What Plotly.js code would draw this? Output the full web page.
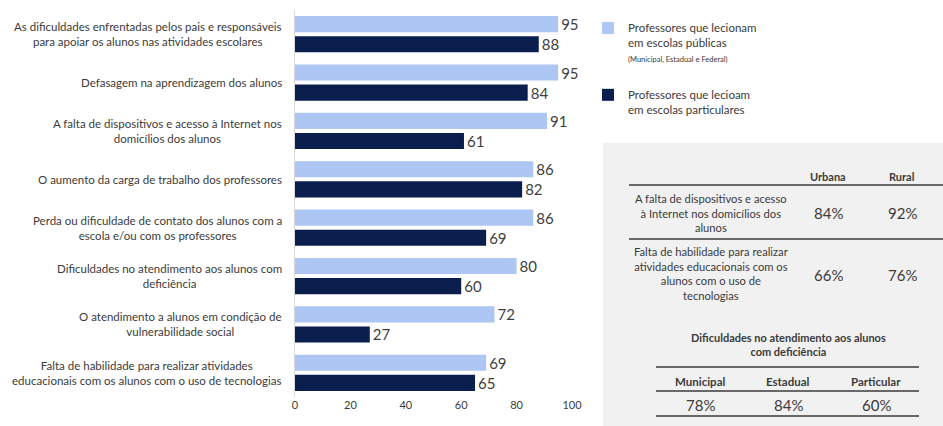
<!DOCTYPE html>
<html>
<head>
<meta charset="utf-8">
<script src="https://cdn.plot.ly/plotly-3.0.1.min.js"></script>
<style>
  html, body { margin: 0; padding: 0; background: #ffffff; }
  #chart { width: 943px; height: 426px; }
</style>
</head>
<body>
<div id="chart"></div>
<script>
// ---- Data ----
const categories = [
  'As dificuldades enfrentadas pelos pais e responsáveis<br>para apoiar os alunos nas atividades escolares',
  'Defasagem na aprendizagem dos alunos',
  'A falta de dispositivos e acesso à Internet nos<br>domicílios dos alunos',
  'O aumento da carga de trabalho dos professores',
  'Perda ou dificuldade de contato dos alunos com a<br>escola e/ou com os professores',
  'Dificuldades no atendimento aos alunos com<br>deficiência',
  'O atendimento a alunos em condição de<br>vulnerabilidade social',
  'Falta de habilidade para realizar atividades<br>educacionais com os alunos com o uso de tecnologias'
];
const publicas = [95, 95, 91, 86, 86, 80, 72, 69];
const particulares = [88, 84, 61, 82, 69, 60, 27, 65];
const seriesNames = [
  'Professores que lecionam<br>em escolas públicas<br><span style="font-size:7.5px">(Municipal, Estadual e Federal)</span>',
  'Professores que lecioam<br>em escolas particulares'
];
const xTicks = [0, 20, 40, 60, 80, 100];

const table1Cols = ['Urbana', 'Rural'];
const table1Rows = [
  'A falta de dispositivos e acesso<br>à Internet nos domicílios dos<br>alunos',
  'Falta de habilidade para realizar<br>atividades educacionais com os<br>alunos com o uso de<br>tecnologias'
];
const table1Vals = [['84%', '92%'], ['66%', '76%']];

const table2Title = 'Dificuldades no atendimento aos alunos<br>com deficiência';
const table2Cols = ['Municipal', 'Estadual', 'Particular'];
const table2Vals = ['78%', '84%', '60%'];

// ---- Styling ----
const W = 943, H = 426;
const px = x => x / W;
const py = y => 1 - y / H;
const FONT = 'Lato, "Open Sans", sans-serif';
const TXT = '#3b3b3b';
const LIGHT = '#aec6f4';
const DARK = '#0b1f4f';

const traces = [
  {
    type: 'bar', orientation: 'h', name: seriesNames[0], legendgroup: 'pub',
    y: categories, x: publicas,
    marker: { color: LIGHT },
    text: publicas.map(String), textposition: 'outside', cliponaxis: false,
    constraintext: 'none',
    textfont: { size: 15, color: '#404040', family: FONT },
    hoverinfo: 'x'
  },
  {
    type: 'bar', orientation: 'h', name: seriesNames[1], legendgroup: 'part',
    y: categories, x: particulares,
    marker: { color: DARK },
    text: particulares.map(String), textposition: 'outside', cliponaxis: false,
    constraintext: 'none',
    textfont: { size: 15, color: '#404040', family: FONT },
    hoverinfo: 'x'
  }
];

const annotations = [];
// category labels
categories.forEach(c => {
  annotations.push({
    xref: 'paper', yref: 'y', x: px(284), y: c, xanchor: 'right', yanchor: 'middle',
    text: c, showarrow: false, align: 'center',
    font: { family: FONT, size: 11.5, color: TXT }
  });
});
// table 1
const t1ColX = [828, 902];
table1Cols.forEach((c, i) => annotations.push({
  xref: 'paper', yref: 'paper', x: px(t1ColX[i]), y: py(176), text: '<b>' + c + '</b>',
  showarrow: false, xanchor: 'center', yanchor: 'middle', font: { family: FONT, size: 11, color: TXT }
}));
const t1RowY = [213, 273];
const t1ValY = [213, 275];
table1Rows.forEach((r, i) => {
  annotations.push({
    xref: 'paper', yref: 'paper', x: px(711), y: py(t1RowY[i]), text: r, align: 'center',
    showarrow: false, xanchor: 'center', yanchor: 'middle', font: { family: FONT, size: 11.2, color: TXT }
  });
  table1Vals[i].forEach((v, j) => annotations.push({
    xref: 'paper', yref: 'paper', x: px(t1ColX[j]), y: py(t1ValY[i]), text: v,
    showarrow: false, xanchor: 'center', yanchor: 'middle', font: { family: FONT, size: 15, color: TXT }
  }));
});
// table 2
annotations.push({
  xref: 'paper', yref: 'paper', x: px(788), y: py(344), text: '<b>' + table2Title + '</b>', align: 'center',
  showarrow: false, xanchor: 'center', yanchor: 'middle', font: { family: FONT, size: 11, color: TXT }
});
const t2ColX = [700, 788, 876];
table2Cols.forEach((c, i) => {
  annotations.push({
    xref: 'paper', yref: 'paper', x: px(t2ColX[i]), y: py(381), text: '<b>' + c + '</b>',
    showarrow: false, xanchor: 'center', yanchor: 'middle', font: { family: FONT, size: 11.5, color: TXT }
  });
  annotations.push({
    xref: 'paper', yref: 'paper', x: px(t2ColX[i]), y: py(405), text: table2Vals[i],
    showarrow: false, xanchor: 'center', yanchor: 'middle', font: { family: FONT, size: 15, color: TXT }
  });
});

const line = (x0, x1, y) => ({
  type: 'line', xref: 'paper', yref: 'paper', x0: px(x0), x1: px(x1), y0: py(y), y1: py(y),
  line: { color: '#3a3a3a', width: 1.5 }
});
const shapes = [
  { type: 'rect', xref: 'paper', yref: 'paper', x0: px(603), x1: 1, y0: 0, y1: py(143),
    fillcolor: '#f1f1f1', line: { width: 0 }, layer: 'below' },
  line(629, 943, 185),
  line(629, 943, 239),
  line(656, 919, 367),
  line(656, 919, 391),
  line(656, 919, 416)
];

const layout = {
  width: W, height: H,
  margin: { l: 0, r: 0, t: 0, b: 0, pad: 0 },
  paper_bgcolor: '#ffffff', plot_bgcolor: 'rgba(0,0,0,0)',
  font: { family: FONT, color: TXT },
  barmode: 'group', bargap: 0.17, bargroupgap: 0.2,
  xaxis: {
    domain: [px(295), px(572)], range: [0, 100], tickvals: xTicks,
    showgrid: false, zeroline: false, showline: false, ticks: '',
    tickfont: { family: FONT, size: 11, color: TXT }, anchor: 'y', automargin: false
  },
  yaxis: {
    domain: [py(397), py(10)], type: 'category', categoryorder: 'array', categoryarray: categories,
    autorange: 'reversed', showticklabels: false, showgrid: false, zeroline: false,
    showline: true, linecolor: '#d9d9d9', linewidth: 1, ticks: '', automargin: false
  },
  showlegend: true,
  legend: {
    x: px(588), y: py(14), xanchor: 'left', yanchor: 'top', valign: 'top',
    bgcolor: 'rgba(0,0,0,0)', tracegroupgap: 19, itemwidth: 30,
    font: { family: FONT, size: 11.5, color: TXT }
  },
  annotations, shapes
};

Plotly.newPlot('chart', traces, layout, { displayModeBar: false, staticPlot: true });
</script>
</body>
</html>
